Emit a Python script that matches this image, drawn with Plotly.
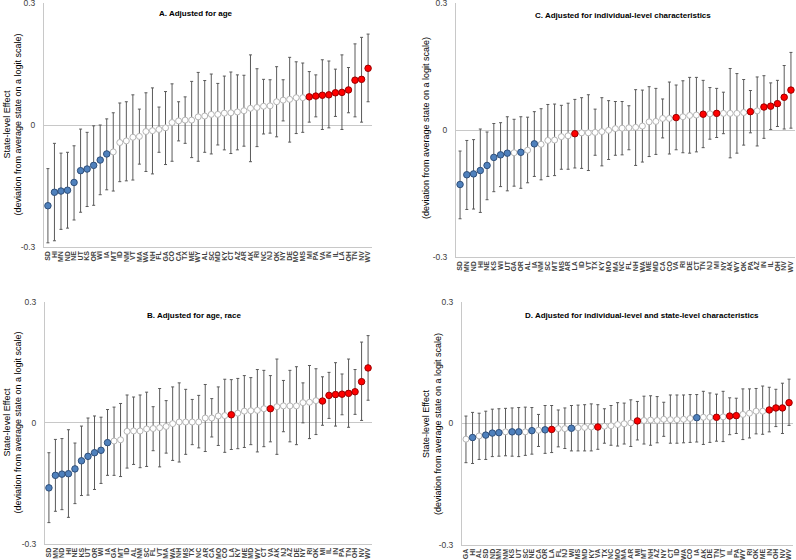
import plotly.graph_objects as go

# groups of states that are highlighted in every panel
BLUE_STATES = ["SD", "HI", "MN", "ND", "NE", "UT", "KS", "OR", "WI", "IA"]
RED_STATES = ["MI", "PA", "VA", "IN", "IL", "LA", "OH", "TN", "NV", "WV"]

# A. Adjusted for age
states_a = ["SD", "HI", "MN", "ND", "NE", "UT", "KS", "OR", "WI", "IA", "MT", "ID", "NM", "VT", "MA",
            "WA", "NH", "FL", "GA", "CO", "CA", "TX", "ME", "WY", "AL", "SC", "MD", "KY", "CT", "AZ",
            "AR", "AK", "RI", "NC", "NJ", "OK", "NY", "DE", "MO", "MS", "MI", "PA", "VA", "IN", "IL",
            "LA", "OH", "TN", "NV", "WV"]
est_a = [-0.198, -0.165, -0.162, -0.160, -0.141, -0.112, -0.108, -0.099, -0.086, -0.071, -0.066, -0.043,
         -0.039, -0.030, -0.028, -0.016, -0.014, -0.011, -0.007, 0.006, 0.010, 0.012, 0.012, 0.020, 0.022,
         0.026, 0.026, 0.029, 0.030, 0.032, 0.035, 0.041, 0.043, 0.046, 0.047, 0.057, 0.061, 0.063, 0.067,
         0.067, 0.069, 0.071, 0.073, 0.074, 0.079, 0.080, 0.086, 0.110, 0.112, 0.139]
hi_a = [-0.107, -0.045, -0.069, -0.067, -0.051, -0.010, -0.018, -0.002, 0.000, 0.015, 0.030, 0.054, 0.057,
        0.074, 0.039, 0.079, 0.091, 0.044, 0.082, 0.101, 0.057, 0.069, 0.107, 0.129, 0.109, 0.125, 0.102,
        0.120, 0.130, 0.123, 0.122, 0.172, 0.138, 0.112, 0.111, 0.143, 0.111, 0.166, 0.155, 0.152, 0.131,
        0.123, 0.160, 0.157, 0.137, 0.172, 0.141, 0.199, 0.215, 0.223]
lo_a = [-0.289, -0.284, -0.256, -0.253, -0.233, -0.214, -0.200, -0.197, -0.171, -0.159, -0.162, -0.139,
        -0.137, -0.135, -0.096, -0.114, -0.120, -0.067, -0.097, -0.089, -0.039, -0.045, -0.080, -0.089,
        -0.067, -0.071, -0.049, -0.061, -0.070, -0.061, -0.052, -0.090, -0.053, -0.022, -0.020, -0.029,
        0.010, -0.042, -0.021, -0.018, 0.007, 0.020, -0.011, -0.007, 0.021, -0.011, 0.030, 0.020, 0.007,
        0.057]

# B. Adjusted for age, race
states_b = ["SD", "MN", "ND", "HI", "NE", "KS", "UT", "OR", "WI", "IA", "GA", "MT", "ID", "AL", "NM",
            "SC", "FL", "VT", "MA", "WA", "NH", "MS", "TX", "NC", "AR", "CA", "MO", "CO", "LA", "KY",
            "ME", "MD", "WY", "CT", "VA", "AK", "NJ", "AZ", "DE", "NY", "RI", "OK", "MI", "IL", "IN",
            "PA", "TN", "OH", "NV", "WV"]
est_b = [-0.161, -0.130, -0.127, -0.126, -0.114, -0.094, -0.083, -0.074, -0.068, -0.049, -0.045, -0.042,
         -0.021, -0.020, -0.020, -0.015, -0.014, -0.012, -0.009, -0.002, 0.002, 0.002, 0.002, 0.002, 0.012,
         0.012, 0.017, 0.018, 0.020, 0.024, 0.029, 0.030, 0.031, 0.035, 0.035, 0.040, 0.042, 0.042, 0.042,
         0.050, 0.051, 0.055, 0.054, 0.068, 0.070, 0.071, 0.073, 0.077, 0.102, 0.136]
hi_b = [-0.074, -0.041, -0.039, -0.017, -0.050, -0.008, 0.012, 0.017, 0.014, 0.033, 0.039, 0.048, 0.069,
        0.064, 0.069, 0.076, 0.040, 0.085, 0.055, 0.089, 0.099, 0.083, 0.058, 0.068, 0.095, 0.060, 0.089,
        0.108, 0.107, 0.110, 0.117, 0.112, 0.132, 0.130, 0.117, 0.158, 0.105, 0.130, 0.139, 0.099, 0.142,
        0.134, 0.114, 0.125, 0.149, 0.121, 0.158, 0.132, 0.200, 0.216]
lo_b = [-0.247, -0.219, -0.215, -0.234, -0.200, -0.180, -0.179, -0.165, -0.150, -0.130, -0.130, -0.133,
        -0.112, -0.103, -0.111, -0.108, -0.069, -0.109, -0.075, -0.093, -0.097, -0.078, -0.054, -0.062,
        -0.071, -0.035, -0.056, -0.073, -0.066, -0.064, -0.061, -0.054, -0.072, -0.059, -0.047, -0.078,
        -0.022, -0.047, -0.054, 0.000, -0.039, -0.029, -0.006, 0.011, -0.008, 0.020, -0.011, 0.021, 0.006,
        0.056]

# C. Adjusted for individual-level characteristics
states_c = ["SD", "MN", "ND", "HI", "NE", "KS", "WI", "UT", "GA", "OR", "AL", "IA", "NM", "SC", "MT",
            "MS", "AR", "LA", "ID", "VT", "TX", "KY", "MO", "MA", "NC", "FL", "NH", "WA", "ME", "MD",
            "CA", "CO", "VA", "RI", "DE", "CT", "TN", "NJ", "MI", "NY", "AK", "WY", "OK", "PA", "AZ",
            "IN", "IL", "OH", "NV", "WV"]
est_c = [-0.128, -0.105, -0.103, -0.095, -0.083, -0.064, -0.058, -0.054, -0.053, -0.052, -0.047, -0.032,
         -0.033, -0.024, -0.023, -0.015, -0.013, -0.008, -0.006, -0.006, -0.005, -0.003, 0.000, 0.004, 0.005,
         0.006, 0.007, 0.010, 0.020, 0.021, 0.028, 0.028, 0.030, 0.032, 0.035, 0.036, 0.038, 0.039, 0.040,
         0.040, 0.040, 0.040, 0.042, 0.044, 0.046, 0.055, 0.057, 0.063, 0.078, 0.095]
hi_c = [-0.049, -0.024, -0.022, 0.003, -0.004, 0.016, 0.018, 0.032, 0.026, 0.032, 0.031, 0.044, 0.051,
        0.061, 0.062, 0.059, 0.064, 0.073, 0.077, 0.084, 0.050, 0.077, 0.070, 0.068, 0.068, 0.058, 0.096,
        0.095, 0.103, 0.099, 0.074, 0.114, 0.107, 0.117, 0.125, 0.125, 0.118, 0.101, 0.099, 0.090, 0.146,
        0.134, 0.120, 0.094, 0.126, 0.129, 0.112, 0.118, 0.153, 0.184]
lo_c = [-0.209, -0.187, -0.186, -0.194, -0.164, -0.145, -0.133, -0.143, -0.132, -0.137, -0.124, -0.109,
        -0.117, -0.109, -0.107, -0.092, -0.092, -0.089, -0.090, -0.095, -0.059, -0.084, -0.069, -0.059,
        -0.058, -0.046, -0.083, -0.075, -0.062, -0.057, -0.018, -0.056, -0.046, -0.053, -0.054, -0.051,
        -0.041, -0.021, -0.017, -0.008, -0.065, -0.054, -0.035, -0.006, -0.037, -0.019, 0.002, 0.009,
        0.003, 0.005]

# D. Adjusted for individual-level and state-level characteristics
states_d = ["GA", "HI", "AL", "SD", "ND", "MN", "NM", "KS", "UT", "SC", "NE", "CA", "OR", "LA", "FL",
            "NJ", "WI", "MS", "MD", "KY", "VA", "TX", "NC", "MO", "MA", "AR", "MI", "MT", "NH", "AZ",
            "NY", "CT", "ID", "WA", "CO", "IA", "AK", "DE", "TN", "VT", "IL", "PA", "WY", "RI", "OK",
            "ME", "IN", "OH", "NV", "WV"]
est_d = [-0.039, -0.035, -0.031, -0.029, -0.024, -0.023, -0.021, -0.021, -0.021, -0.021, -0.018, -0.017,
         -0.016, -0.015, -0.013, -0.013, -0.012, -0.011, -0.010, -0.009, -0.009, -0.007, -0.006, -0.003,
         -0.001, 0.001, 0.006, 0.007, 0.008, 0.007, 0.010, 0.009, 0.009, 0.010, 0.012, 0.014, 0.015, 0.015,
         0.015, 0.016, 0.018, 0.019, 0.022, 0.025, 0.030, 0.030, 0.033, 0.038, 0.038, 0.051]
hi_d = [0.018, 0.027, 0.025, 0.030, 0.035, 0.036, 0.037, 0.038, 0.039, 0.040, 0.039, 0.022, 0.044, 0.044,
        0.033, 0.038, 0.044, 0.045, 0.046, 0.048, 0.046, 0.036, 0.044, 0.051, 0.050, 0.058, 0.054, 0.067,
        0.068, 0.066, 0.052, 0.070, 0.070, 0.070, 0.071, 0.071, 0.079, 0.075, 0.072, 0.079, 0.063, 0.062,
        0.085, 0.085, 0.086, 0.092, 0.089, 0.084, 0.099, 0.109]
lo_d = [-0.097, -0.099, -0.089, -0.089, -0.082, -0.081, -0.080, -0.081, -0.082, -0.079, -0.076, -0.057,
        -0.074, -0.072, -0.058, -0.062, -0.068, -0.068, -0.068, -0.068, -0.064, -0.049, -0.054, -0.056,
        -0.051, -0.057, -0.041, -0.051, -0.054, -0.048, -0.032, -0.049, -0.049, -0.048, -0.047, -0.046,
        -0.052, -0.047, -0.044, -0.045, -0.028, -0.025, -0.040, -0.036, -0.026, -0.027, -0.021, -0.008,
        -0.025, -0.005]

panels = [
    ("A. Adjusted for age", states_a, est_a, hi_a, lo_a),
    ("B. Adjusted for age, race", states_b, est_b, hi_b, lo_b),
    ("C. Adjusted for individual-level characteristics", states_c, est_c, hi_c, lo_c),
    ("D. Adjusted for individual-level and state-level characteristics", states_d, est_d, hi_d, lo_d),
]

W, H = 796, 560
# plot-area boxes in pixels: left, right, top, bottom
boxes = [(44, 372, 2.7, 247.3), (45, 372, 301.7, 544), (456, 795, 3.3, 257.3), (462, 793, 301.7, 545)]
title_pos = [(196, 13), (194, 315), (623, 15), (642, 315)]

ERR = "#5a5a5a"
GRID = "#c8c8c8"
FONT = "Liberation Sans"

fig = go.Figure()

for i, (title, states, est, hi, lo) in enumerate(panels):
    n = i + 1
    xa = "x" if n == 1 else f"x{n}"
    ya = "y" if n == 1 else f"y{n}"
    groups = [
        ("gray", [s not in BLUE_STATES and s not in RED_STATES for s in states],
         dict(color="white", size=6, line=dict(color="#b5b5b5", width=1))),
        ("blue", [s in BLUE_STATES for s in states],
         dict(color="#4f81bd", size=6.5, line=dict(color="#2f4f7a", width=1))),
        ("red", [s in RED_STATES for s in states],
         dict(color="#ff0000", size=6.5, line=dict(color="#9a0000", width=1))),
    ]
    for name, mask, marker in groups:
        xs = [s for s, m in zip(states, mask) if m]
        ys = [e for e, m in zip(est, mask) if m]
        up = [round(h - e, 4) for h, e, m in zip(hi, est, mask) if m]
        dn = [round(e - l, 4) for l, e, m in zip(lo, est, mask) if m]
        fig.add_trace(go.Scatter(
            x=xs, y=ys, mode="markers", marker=marker, name=name, showlegend=False,
            xaxis=xa, yaxis=ya, cliponaxis=False,
            error_y=dict(type="data", array=up, arrayminus=dn, symmetric=False,
                         color=ERR, thickness=1, width=1.5),
        ))

    left, right, top, bottom = boxes[i]
    xkey = "xaxis" if n == 1 else f"xaxis{n}"
    ykey = "yaxis" if n == 1 else f"yaxis{n}"
    fig.layout[xkey] = dict(
        domain=[left / W, right / W], anchor=ya, type="category", automargin=False,
        categoryorder="array", categoryarray=states,
        tickmode="array", tickvals=states, ticktext=states,
        range=[-0.6, len(states) - 0.4],
        tickangle=-90, tickfont=dict(size=7, color="#404040", family=FONT, weight="bold"),
        showgrid=False, showline=True, linecolor=GRID, ticks="", zeroline=False,
    )
    fig.layout[ykey] = dict(
        domain=[1 - bottom / H, 1 - top / H], anchor=xa, automargin=False,
        range=[-0.3, 0.3], tickmode="array", tickvals=[-0.3, 0, 0.3], ticktext=["-0.3", "0", "0.3"],
        tickfont=dict(size=8.5, color="#404040", family=FONT), ticklabeloverflow="allow",
        showgrid=True, gridcolor=GRID, gridwidth=1, showline=True, linecolor=GRID,
        zeroline=False, ticks="", ticklabelstandoff=6,
    )
    tx, ty = title_pos[i]
    fig.add_annotation(x=tx / W, y=1 - ty / H, xref="paper", yref="paper", text=f"<b>{title}</b>",
                       showarrow=False, xanchor="center", yanchor="middle",
                       font=dict(size=8, color="#000000", family=FONT))

ytitle = "State-level Effect<br>(deviation from average state on a logit scale)"
for x, y, text in [(12.5, 125, ytitle), (12.5, 423, ytitle),
                   (426, 128, "(deviation from average state on a logit scale)"), (432, 424, ytitle)]:
    fig.add_annotation(x=x / W, y=1 - y / H, xref="paper", yref="paper", text=text, textangle=-90,
                       showarrow=False, xanchor="center", yanchor="middle",
                       font=dict(size=9, color="#000000", family=FONT))

fig.update_layout(
    width=W, height=H, margin=dict(l=0, r=0, t=0, b=0),
    paper_bgcolor="white", plot_bgcolor="white",
)

# the page body has a default margin, drop it so the figure sits at the top-left corner
fig.write_html("out.html", config={"displayModeBar": False},
               post_script="document.body.style.margin = '0';")
